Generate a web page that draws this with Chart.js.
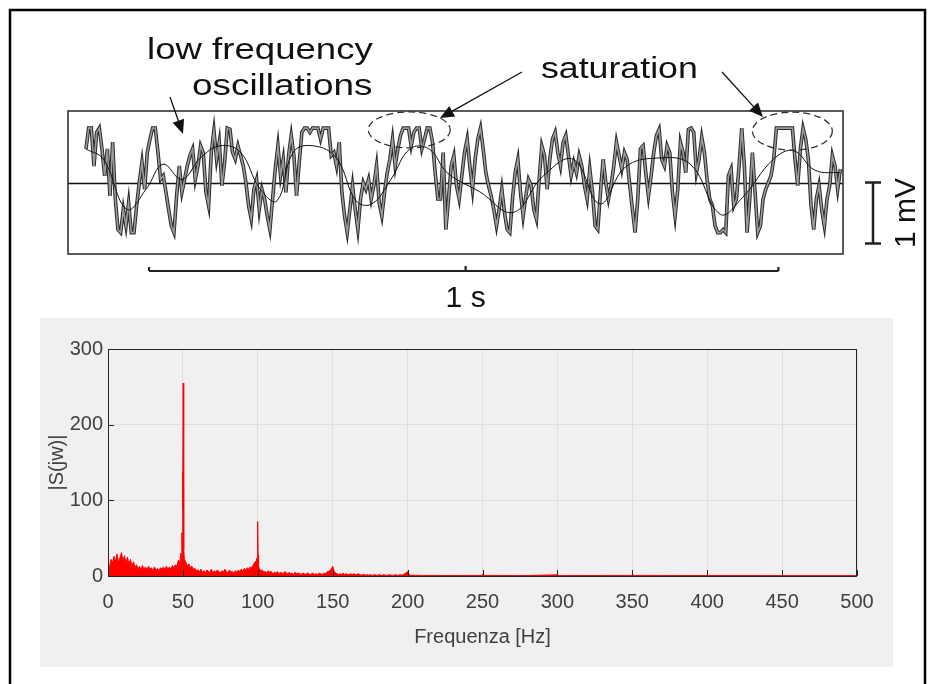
<!DOCTYPE html>
<html>
<head>
<meta charset="utf-8">
<script src="https://cdn.jsdelivr.net/npm/chart.js@4.4.0/dist/chart.umd.min.js"></script>
<style>
  html, body { margin: 0; padding: 0; background: #fff; }
  #wrap { position: relative; width: 936px; height: 684px; overflow: hidden; }
  #topCanvas { position: absolute; left: 0; top: 0; }
  #specBox { position: absolute; left: 40px; top: 318px; width: 853px; height: 349px; background: #f0f0f0; }
</style>
</head>
<body>
<div id="wrap">
  <canvas id="topCanvas" width="936" height="684"></canvas>
  <div id="specBox"><canvas id="specCanvas" width="853" height="349"></canvas></div>
</div>
<script>
const signalStartMs = 28.4;
const sampleMs = 4.21;
const signalMv = [
  0.55, 0.89, 0.89, 0.27, 0.82, 0.89, 0.55, 0.11, 0.55, -0.22,
  0.66, -0.27, -0.77, -0.82, -0.44, -0.71, -0.33, -0.82, -0.82, -0.38,
  0, 0.33, -0.11, 0.49, 0.71, 0.89, 0.89, 0.49, 0.05, 0.11,
  -0.16, -0.44, -0.71, -0.82, -0.22, 0.27, -0.16, 0.05, 0.27, 0.44,
  0.55, 0.05, 0.27, 0.60, 0.49, -0.16, -0.38, 0.49, 0.85, 0.38,
  0.66, -0.05, 0.33, 0.89, 0.87, 0.49, 0.38, 0.60, 0.44, 0.27,
  0, -0.38, -0.60, -0.11, 0.05, -0.44, -0.11, -0.27, -0.55, -0.77,
  -0.27, 0.22, 0.60, 0.11, 0.38, -0.16, 0.44, 0.77, 0.44, -0.22,
  0.33, 0.82, 0.89, 0.89, 0.82, 0.89, 0.89, 0.89, 0.71, 0.89,
  0.89, 0.89, 0.44, 0.49, 0.27, 0.66, -0.16, -0.55, -0.82, -0.44,
  -0.05, -0.44, -0.77, -0.27, 0, -0.11, 0.05, -0.27, -0.05, 0.27,
  -0.33, -0.55, -0.16, 0.16, 0.38, 0.71, 0.27, 0.55, 0.77, 0.89,
  0.89, 0.89, 0.60, 0.82, 0.89, 0.89, 0.55, 0.71, 0.89, 0.89,
  0.66, 0.16, -0.27,
  -0.27, 0.49, -0.77, -0.27, 0.27, 0.44, -0.05, -0.27, 0.11, 0.49,
  0.71, 0.27, -0.11, 0.38, 0.71, 0.89, 0.55, 0.16, -0.05, -0.22,
  -0.44, -0.71, -0.44, -0.11, -0.49, -0.77, -0.82, -0.27, 0.16, 0.38,
  -0.16, -0.55, -0.22, 0.05, -0.05, -0.44, -0.60, 0.05, 0.60, 0.44,
  -0.11, 0.38, 0.71, 0.82, 0.49, 0.27, 0.66, 0.77, 0.44, 0.11,
  0.33, 0.16, 0.44, 0.27, -0.05, -0.27, 0.22, -0.16, -0.71, -0.77,
  -0.16, 0.38, 0, -0.27, -0.05, 0.27, 0.66, 0.44, 0.22, 0.49,
  0.38, -0.05, -0.44, -0.82, -0.27, 0.55, 0.60, 0.16, -0.22, 0.11,
  0.49, 0.77, 0.87, 0.38, 0.27, 0.60, 0.49, -0.16, -0.55, -0.11,
  0.66, 0.49, 0.16, 0.87, 0.89, 0.82, 0.16, 0.38, 0.74, 0.49,
  0.05, -0.27, -0.38, -0.71, -0.82, -0.82, -0.77, -0.82, 0.11, 0.22,
  -0.38, -0.27, 0.27, 0.89, 0.27, -0.82, -0.27, 0.49, -0.16, -0.82,
  -0.71, -0.27, -0.11, 0, 0.11, 0.38, 0.89, 0.89, 0.89, 0.89,
  0.89, 0.89, 0.89, 0.38, -0.05, 0.55, 0.89, 0.71, 0.38, -0.38,
  -0.77, -0.27, -0.05, -0.44, -0.71, -0.27, -0.05, 0.44, 0.27, -0.11,
  0.22
];

// slow baseline wander drawn over the trace
const trendMs = [28, 56, 93, 124, 150, 180, 209, 240, 272, 303, 330, 356, 388, 424, 455, 480, 510,
  540, 570, 600, 650, 703, 750, 798, 840, 880, 930, 983, 1030, 1065, 1114, 1146, 1180, 1220];
const trendMv = [0.55, 0.38, -0.44, -0.10, 0.30, 0.05, 0.40, 0.60, 0.50, -0.10, -0.30, 0.50, 0.60, 0.40, -0.30, -0.35, 0.05,
  0.55, 0.55, 0.15, -0.15, -0.49, 0.10, 0.38, -0.35, 0.25, 0.40, 0.30, -0.52, -0.25, 0.38, 0.52, 0.20, 0.16];

// ---- spectrum |S(jw)|
const spectrumHz = [
  0, 1, 2, 3, 4, 5, 6, 7, 8, 9, 10, 11, 12, 13, 14, 15, 16, 17, 18, 19, 20, 21, 22, 23, 24,
  25, 26, 27, 28, 29, 30, 31, 32, 33, 34, 35, 36, 37, 38, 39, 40, 41, 42, 43, 44, 45, 46, 47,
  48, 48.5, 49, 49.3, 49.6, 49.8, 50, 50.2, 50.4, 50.7, 51,
  52, 53, 54, 55, 56, 57, 58, 59, 60, 61, 62, 63, 64, 65, 66, 67, 68, 69, 70, 71, 72, 73, 74, 75,
  76, 77, 78, 79, 80, 81, 82, 83, 84, 85, 86, 87, 88, 89, 90, 91, 92, 93, 94, 95, 96, 97, 98,
  99, 99.5, 99.8, 100, 100.2, 100.5, 101,
  102, 103, 104, 105, 106, 107, 108, 109, 110, 111, 112, 113, 114, 115, 116, 117, 118, 119, 120,
  121, 122, 123, 124, 125, 126, 127, 128, 129, 130, 131, 132, 133, 134, 135, 136, 137, 138, 139,
  140, 141, 142, 143, 144, 145, 146, 147, 148, 149, 150, 151, 152,
  153, 154, 155, 156, 157, 158, 159, 160, 161, 162, 163, 164, 165, 166, 167, 168, 169, 170, 171,
  172, 173, 174, 175, 176, 177, 178, 179, 180, 181, 182, 183, 184, 185, 186, 187, 188, 189, 190,
  191, 192, 193, 194, 195, 196, 197, 198, 199, 200, 201, 202,
  210, 230, 249, 250, 251, 275, 300, 301, 350, 400, 450, 500
];
const spectrumMag = [
  1, 12, 22, 17, 26, 19, 29, 18, 24, 31, 20, 27, 17, 25, 16, 22, 13, 19, 11, 15, 9, 13, 8, 14, 9,
  12, 8, 13, 9, 11, 7, 12, 8, 10, 7, 11, 9, 12, 8, 13, 9, 12, 9, 14, 11, 15, 13, 21,
  18, 30, 24, 57, 40, 138, 90, 255, 60, 35, 22,
  18, 14, 16, 11, 13, 9, 10, 7, 8, 6, 9, 5, 7, 4, 8, 6, 5, 9, 4, 7, 5, 8, 6, 4,
  7, 5, 9, 6, 4, 8, 5, 6, 4, 7, 5, 8, 6, 9, 7, 10, 8, 11, 9, 12, 11, 15, 18,
  20, 24, 32, 72, 28, 14, 10,
  7, 8, 5, 6, 4, 7, 5, 6, 3, 5, 4, 6, 3, 5, 4, 3, 6, 4, 3,
  5, 3, 4, 2, 5, 3, 4, 3, 2, 4, 3, 2, 4, 3, 2, 3, 4, 2, 3,
  2, 4, 3, 2, 4, 3, 5, 6, 7, 9, 13, 6, 4,
  3, 2, 3, 2, 4, 2, 3, 2, 2, 3, 2, 3, 2, 2, 3, 2, 1, 2, 2,
  1, 2, 1, 2, 1, 1, 2, 1, 1, 2, 1, 1, 2, 1, 1, 1, 2, 1, 1,
  1, 2, 1, 1, 2, 1, 2, 3, 4, 6, 2, 1,
  0.8, 0.6, 0.8, 2, 0.8, 0.5, 1.5, 0.5, 0.8, 0.6, 0.5, 0.5
];
const freqTicks = [0, 50, 100, 150, 200, 250, 300, 350, 400, 450, 500];
const magTicks = [0, 100, 200, 300];

const textFont = '30px "Liberation Sans", Arial, sans-serif';
const matlabFont = '"Liberation Sans Narrow", "Arial Narrow", "Liberation Sans", sans-serif';

function arrow(ctx, x1, y1, x2, y2) {
    const a = Math.atan2(y2 - y1, x2 - x1);
    ctx.beginPath();
    ctx.moveTo(x1, y1);
    ctx.lineTo(x2 - 8 * Math.cos(a), y2 - 8 * Math.sin(a));
    ctx.stroke();
    ctx.beginPath();
    ctx.moveTo(x2, y2);
    ctx.lineTo(x2 - 14 * Math.cos(a) + 6 * Math.sin(a), y2 - 14 * Math.sin(a) - 6 * Math.cos(a));
    ctx.lineTo(x2 - 14 * Math.cos(a) - 6 * Math.sin(a), y2 - 14 * Math.sin(a) + 6 * Math.cos(a));
    ctx.closePath();
    ctx.fill();
}

// the annotation text in the original is a bit stretched sideways
function wideText(ctx, str, x, y, sx) {
    ctx.save();
    ctx.translate(x, y);
    ctx.scale(sx, 1);
    ctx.fillText(str, 0, 0);
    ctx.restore();
}

const topDecor = {
    id: 'topDecor',
    beforeDatasetsDraw(chart) {
        const {ctx, chartArea: a, scales: {y}} = chart;
        const y0 = Math.round(y.getPixelForValue(0)) + 0.5;
        ctx.save();
        ctx.strokeStyle = '#111';
        ctx.lineWidth = 1.3;
        ctx.beginPath();
        ctx.moveTo(a.left, y0);
        ctx.lineTo(a.right, y0);
        ctx.stroke();
        ctx.restore();
    },
    afterDraw(chart) {
        const {ctx, chartArea: a, scales: {x, y}} = chart;
        ctx.save();
        // outer frame of the figure
        ctx.strokeStyle = '#000';
        ctx.lineWidth = 2.5;
        ctx.strokeRect(10, 10, 915, 700);
        // trace box
        ctx.strokeStyle = '#333';
        ctx.lineWidth = 1.6;
        ctx.strokeRect(a.left, a.top, a.right - a.left, a.bottom - a.top);

        // labels
        ctx.fillStyle = '#111';
        ctx.font = textFont;
        ctx.textAlign = 'left';
        ctx.textBaseline = 'alphabetic';
        wideText(ctx, 'low frequency', 147, 59, 1.22);
        wideText(ctx, 'oscillations', 192, 95, 1.23);
        wideText(ctx, 'saturation', 541, 78, 1.19);

        ctx.strokeStyle = '#111';
        ctx.lineWidth = 1.3;
        arrow(ctx, 170, 97, 183, 134);
        arrow(ctx, 522, 72, 440, 118);
        arrow(ctx, 722, 72, 763, 117);

        // dashed ellipses round the saturated parts
        ctx.setLineDash([7, 4]);
        ctx.lineWidth = 1.3;
        ctx.strokeStyle = '#333';
        ctx.beginPath();
        ctx.ellipse(x.getPixelForValue(539), y.getPixelForValue(0.86), 41, 18, 0, 0, 2 * Math.PI);
        ctx.stroke();
        ctx.beginPath();
        ctx.ellipse(x.getPixelForValue(1144), y.getPixelForValue(0.84), 40, 19, 0, 0, 2 * Math.PI);
        ctx.stroke();
        ctx.setLineDash([]);

        // 1 s bar
        const bx1 = x.getPixelForValue(128), bx2 = x.getPixelForValue(1122), bxm = x.getPixelForValue(628);
        ctx.strokeStyle = '#222';
        ctx.lineWidth = 2.2;
        ctx.beginPath();
        ctx.moveTo(bx1, 271);
        ctx.lineTo(bx2, 271);
        ctx.moveTo(bx1, 271);
        ctx.lineTo(bx1, 267);
        ctx.moveTo(bx2, 271);
        ctx.lineTo(bx2, 267);
        ctx.moveTo(bxm, 271);
        ctx.lineTo(bxm, 266);
        ctx.stroke();
        ctx.textAlign = 'center';
        ctx.fillText('1 s', bxm, 307);

        // 1 mV bar
        const my1 = y.getPixelForValue(0), my2 = y.getPixelForValue(-1);
        ctx.lineWidth = 2.5;
        ctx.beginPath();
        ctx.moveTo(873, my1);
        ctx.lineTo(873, my2);
        ctx.moveTo(865, my1);
        ctx.lineTo(881, my1);
        ctx.moveTo(865, my2);
        ctx.lineTo(881, my2);
        ctx.stroke();
        ctx.translate(907, (my1 + my2) / 2);
        ctx.rotate(-Math.PI / 2);
        ctx.textBaseline = 'middle';
        ctx.fillText('1 mV', 0, 0);
        ctx.restore();
    }
};

new Chart(document.getElementById('topCanvas'), {
    type: 'line',
    data: {
        datasets: [{
            data: trendMs.map((t, i) => ({x: t, y: trendMv[i]})),
            borderColor: '#111',
            borderWidth: 1,
            tension: 0.4,
            pointRadius: 0,
            order: 0
        }, {
            data: signalMv.map((v, i) => ({x: signalStartMs + i * sampleMs, y: v})),
            borderColor: '#9a9a9a',
            borderWidth: 1.6,
            pointRadius: 0,
            order: 1
        }, {
            data: signalMv.map((v, i) => ({x: signalStartMs + i * sampleMs, y: v})),
            borderColor: '#2b2b2b',
            borderWidth: 3.6,
            pointRadius: 0,
            order: 2
        }]
    },
    options: {
        responsive: false,
        animation: false,
        layout: {padding: {left: 68, right: 93, top: 111, bottom: 430}},
        scales: {
            x: {type: 'linear', min: 0, max: 1224, display: false},
            y: {min: -1.17, max: 1.17, display: false}
        },
        plugins: {legend: {display: false}, tooltip: {enabled: false}}
    },
    plugins: [topDecor]
});

const specFrame = {
    id: 'specFrame',
    afterDraw(chart) {
        const {ctx, chartArea: a, scales: {x, y}} = chart;
        ctx.save();
        ctx.strokeStyle = '#262626';
        ctx.lineWidth = 1;
        ctx.strokeRect(Math.round(a.left) + 0.5, Math.round(a.top) + 0.5, Math.round(a.width) - 1, Math.round(a.height));
        ctx.beginPath();
        freqTicks.forEach(v => {
            const px = Math.round(x.getPixelForValue(v)) + 0.5;
            ctx.moveTo(px, a.bottom);
            ctx.lineTo(px, a.bottom - 6);
        });
        magTicks.forEach(v => {
            const py = Math.round(y.getPixelForValue(v)) + 0.5;
            ctx.moveTo(a.left, py);
            ctx.lineTo(a.left + 6, py);
        });
        ctx.stroke();
        ctx.restore();
    }
};

new Chart(document.getElementById('specCanvas'), {
    type: 'line',
    data: {
        datasets: [{
            data: spectrumHz.map((f, i) => ({x: f, y: spectrumMag[i]})),
            borderColor: '#ff0000',
            backgroundColor: '#ff0000',
            borderWidth: 1,
            fill: 'origin',
            pointRadius: 0,
            tension: 0
        }]
    },
    options: {
        responsive: false,
        animation: false,
        layout: {padding: {left: 0, right: 36, top: 31, bottom: 0}},
        scales: {
            x: {
                type: 'linear', min: 0, max: 500,
                afterFit: s => { s.height = 91; },
                afterBuildTicks: s => { s.ticks = freqTicks.map(v => ({value: v})); },
                ticks: {color: '#404040', padding: 14, maxRotation: 0, font: {family: matlabFont, size: 20}},
                grid: {color: '#dedede', drawTicks: false},
                border: {display: false},
                title: {display: true, text: 'Frequenza [Hz]', color: '#404040', padding: {top: 0, bottom: 18},
                    font: {family: matlabFont, size: 20}}
            },
            y: {
                min: 0, max: 300,
                afterFit: s => { s.width = 68; },
                afterBuildTicks: s => { s.ticks = magTicks.map(v => ({value: v})); },
                ticks: {color: '#404040', padding: 5, font: {family: matlabFont, size: 20}},
                grid: {color: '#dedede', drawTicks: false},
                border: {display: false},
                title: {display: true, text: '|S(jw)|', color: '#404040', padding: {top: 5, bottom: 0},
                    font: {family: matlabFont, size: 20}}
            }
        },
        plugins: {legend: {display: false}, tooltip: {enabled: false}}
    },
    plugins: [specFrame]
});
</script>
</body>
</html>
